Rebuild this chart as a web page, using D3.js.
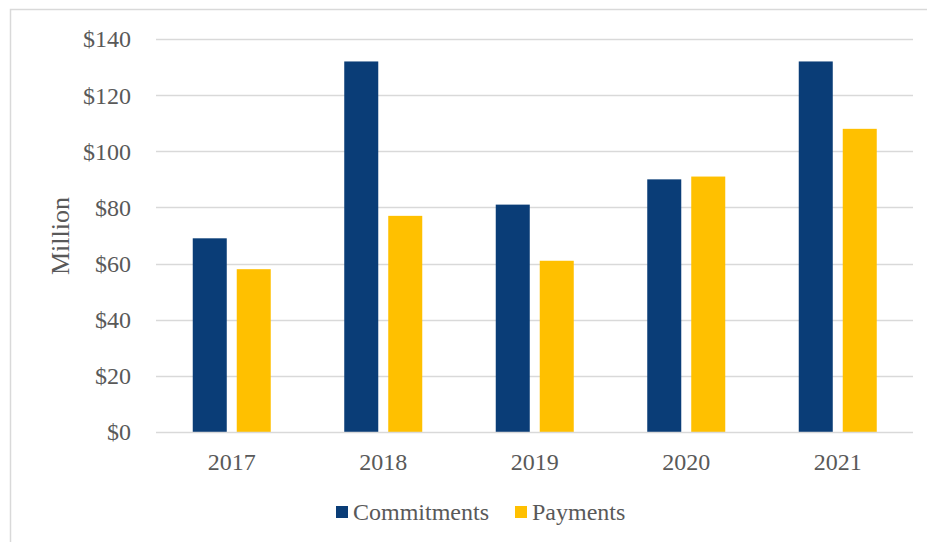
<!DOCTYPE html>
<html>
<head>
<meta charset="utf-8">
<script src="https://cdn.jsdelivr.net/npm/d3@7"></script>
<style>
  html, body { margin: 0; padding: 0; background: #fff; }
  svg { display: block; }
  text { font-family: "Liberation Serif", "Times New Roman", serif; fill: #595959; }
</style>
</head>
<body>
<svg id="chart" width="927" height="542"></svg>
<script>
// Annual commitments and payments, in millions of dollars
const years = ["2017", "2018", "2019", "2020", "2021"];
const seriesNames = ["Commitments", "Payments"];
const commitments = [69, 132, 81, 90, 132];
const payments = [58, 77, 61, 91, 108];
const yTicks = [0, 20, 40, 60, 80, 100, 120, 140];
const colors = { Commitments: "#0A3D77", Payments: "#FFC000" };

const rows = years.map((y, i) => ({ year: y, Commitments: commitments[i], Payments: payments[i] }));

const svg = d3.select("#chart");
const margin = { left: 156, right: 14, top: 39, bottom: 110 };
const W = 927, H = 542;

// outer chart frame
svg.append("rect")
  .attr("x", 10.5).attr("y", 9.5)
  .attr("width", 1000).attr("height", 1000)
  .attr("fill", "none").attr("stroke", "#d9d9d9").attr("stroke-width", 1.5);

const x0 = d3.scaleBand().domain(years).range([156, 913.5]).padding(0);
const y = d3.scaleLinear().domain([0, 140]).range([432, 39]);

// horizontal gridlines
svg.append("g").selectAll("line").data(yTicks.filter(d => d > 0)).join("line")
  .attr("x1", 156).attr("x2", 913)
  .attr("y1", d => Math.round(y(d)) + 0.5).attr("y2", d => Math.round(y(d)) + 0.5)
  .attr("stroke", "#d9d9d9").attr("stroke-width", 1.3);

// y tick labels
svg.append("g").selectAll("text").data(yTicks).join("text")
  .attr("x", 131).attr("y", d => y(d))
  .attr("dy", "0.35em")
  .attr("text-anchor", "end")
  .style("font-size", "24px")
  .text(d => "$" + d);

// bars
const groupW = 78;
const x1 = d3.scaleBand().domain(seriesNames).range([0, groupW]).paddingInner(0.227);

const groups = svg.append("g").selectAll("g").data(rows).join("g")
  .attr("transform", d => `translate(${x0(d.year) + x0.bandwidth() / 2 - groupW / 2},0)`);

groups.selectAll("rect").data(d => seriesNames.map(k => ({ key: k, value: d[k] }))).join("rect")
  .attr("x", d => x1(d.key))
  .attr("width", x1.bandwidth())
  .attr("y", d => y(d.value))
  .attr("height", d => y(0) - y(d.value))
  .attr("fill", d => colors[d.key]);

// x axis baseline
svg.append("line")
  .attr("x1", 156).attr("x2", 913)
  .attr("y1", 432.5).attr("y2", 432.5)
  .attr("stroke", "#d9d9d9").attr("stroke-width", 1.5);

// x tick labels
svg.append("g").selectAll("text").data(years).join("text")
  .attr("x", d => x0(d) + x0.bandwidth() / 2)
  .attr("y", 470)
  .attr("text-anchor", "middle")
  .style("font-size", "24px")
  .text(d => d);

// y axis title
svg.append("text")
  .attr("transform", "translate(69,236) rotate(-90)")
  .attr("text-anchor", "middle")
  .style("font-size", "26px")
  .text("Million");

// legend
const legendItems = [
  { key: "Commitments", x: 336 },
  { key: "Payments", x: 515 }
];
const lg = svg.append("g").selectAll("g").data(legendItems).join("g")
  .attr("transform", d => `translate(${d.x},0)`);
lg.append("rect")
  .attr("x", 0).attr("y", 506)
  .attr("width", 12).attr("height", 12)
  .attr("fill", d => colors[d.key]);
lg.append("text")
  .attr("x", 17).attr("y", 520)
  .style("font-size", "24px")
  .text(d => d.key);
</script>
</body>
</html>
